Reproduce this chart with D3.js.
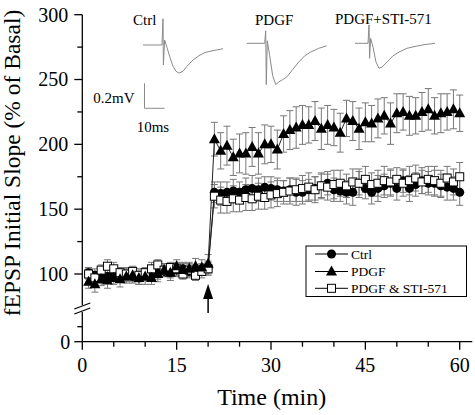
<!DOCTYPE html>
<html><head><meta charset="utf-8">
<script src="https://cdn.jsdelivr.net/npm/d3@7"></script>
<style>html,body{margin:0;padding:0;background:#fff}svg{display:block}
svg text{font-family:"Liberation Serif","Times New Roman",Times,serif;}</style>
</head><body>
<svg id="chart" width="475" height="415"></svg>
<script>
const time = [1,2,3,4,5,6,7,8,9,10,11,12,13,14,15,16,17,18,19,20,
  21,22,23,24,25,26,27,28,29,30,31,32,33,34,35,36,37,38,39,40,
  41,42,43,44,45,46,47,48,49,50,51,52,53,54,55,56,57,58,59,60];
const ctrl = [101,99,97,98,100,101,99,98,97,99,100,101,102,101,103,104,102,103,104,105,
  163,162,163,164,163,165,166,165,167,166,165,164,165,163,163,165,166,168,170,165,
  164,163,163,170,166,163,166,168,170,166,172,166,169,172,170,170,168,167,166,163];
const ctrlErr = [4,5,4,5,4,4,5,4,5,4,4,5,4,4,5,4,5,4,4,5,
  8,9,8,9,8,9,10,9,8,9,9,8,9,10,9,8,9,10,9,9,
  8,9,10,9,8,9,10,9,10,9,9,10,9,10,9,10,9,10,9,10];
const pdgf = [94,92,96,95,97,96,98,99,97,98,97,100,103,101,106,103,104,106,105,108,
  204,195,199,190,193,193,198,193,200,200,196,208,211,213,215,215,218,212,215,213,
  209,220,218,212,217,216,220,222,216,224,225,222,222,225,227,222,224,225,227,224];
const pdgfErr = [5,6,5,6,5,6,5,6,5,6,5,6,5,6,5,6,5,6,6,7,
  13,14,15,14,15,16,15,16,15,14,15,14,15,16,15,14,15,16,15,14,
  15,14,15,16,15,14,15,14,16,15,14,15,14,15,16,14,15,14,15,14];
const sti = [100,97,103,106,104,101,100,102,99,101,104,107,103,105,104,100,103,99,102,104,
  160,157,156,158,157,159,158,160,159,161,162,163,164,165,166,167,165,168,167,169,
  170,168,171,170,173,169,170,172,171,173,170,172,174,171,173,172,170,174,171,175];
const stiErr = [4,5,4,5,5,4,5,4,5,4,5,4,5,4,5,4,5,4,5,5,
  9,10,9,10,9,10,9,10,9,10,10,9,10,9,10,11,10,9,10,11,
  10,9,10,11,10,9,10,11,10,9,10,11,10,9,10,11,10,9,10,11];

const xTicks = [0,15,30,45,60];
const xMinor = [5,10,20,25,35,40,50,55];
const yTicks = [100,150,200,250,300];
const yMinor = [125,175,225,275];
const yLowTicks = [0];
const yLowMinor = [25];

const legendNames = ["Ctrl","PDGF","PDGF & STI-571"];
const insetNames = ["Ctrl","PDGF","PDGF+STI-571"];
const stimTime = 20;

// representative traces: [ms, mV]
const ctrlTrace = [[0,0],[9.5,0],[10,0.21],[10.2,-0.16],[10.8,0.04],[12,-0.02],[13.5,-0.1],[15,-0.17],[16.5,-0.21],[18,-0.225],[20,-0.21],[22,-0.17],[25,-0.12],[28,-0.085],[31,-0.06],[35,-0.045],[40,-0.03]];
const pdgfTrace = [[0,0],[9,0],[9.5,0.1],[9.8,-0.33],[10.3,0.02],[11.5,-0.1],[13,-0.26],[14.5,-0.33],[16,-0.31],[18,-0.29],[20,-0.27],[23,-0.21],[26,-0.15],[29,-0.1],[32,-0.07],[36,-0.04],[40,-0.02]];
const stiTrace = [[0,0],[6.5,0],[7,0.146],[7.3,-0.12],[7.8,0.04],[9,-0.03],[10.5,-0.15],[12,-0.2],[13.5,-0.19],[16,-0.15],[19,-0.1],[22,-0.07],[26,-0.04],[30,-0.025],[35,-0.01],[40,0]];

const svg = d3.select("#chart");

const x = d3.scaleLinear().domain([0,62]).range([82.3,472.3]);
const y = d3.scaleLinear().domain([100,300]).range([274,14.7]);
const yLow = d3.scaleLinear().domain([0,50]).range([341.7,311.7]);

// axes
const gx = svg.append("g").attr("transform",`translate(0,${yLow(0)})`);
gx.append("line").attr("x1",x(0)).attr("x2",x(62)).attr("stroke","#000").attr("stroke-width",1.3);
gx.selectAll(".maj").data(xTicks).join("line").attr("x1",d=>x(d)).attr("x2",d=>x(d)).attr("y1",0).attr("y2",8).attr("stroke","#000").attr("stroke-width",1.3);
gx.selectAll(".min").data(xMinor).join("line").attr("x1",d=>x(d)).attr("x2",d=>x(d)).attr("y1",0).attr("y2",5).attr("stroke","#000").attr("stroke-width",1.3);
gx.selectAll("text").data(xTicks).join("text").attr("x",d=>x(d)).attr("y",30).attr("text-anchor","middle")
  .attr("font-size",20).text(d=>d);

const gy = svg.append("g");
const axX = x(0);
gy.append("line").attr("x1",axX).attr("x2",axX).attr("y1",y(300)).attr("y2",305).attr("stroke","#000").attr("stroke-width",1.3);
gy.append("line").attr("x1",axX).attr("x2",axX).attr("y1",312).attr("y2",yLow(0)).attr("stroke","#000").attr("stroke-width",1.3);
gy.selectAll(".maj").data(yTicks).join("line").attr("x1",axX-8).attr("x2",axX).attr("y1",d=>y(d)).attr("y2",d=>y(d)).attr("stroke","#000").attr("stroke-width",1.3);
gy.selectAll(".min").data(yMinor).join("line").attr("x1",axX-5).attr("x2",axX).attr("y1",d=>y(d)).attr("y2",d=>y(d)).attr("stroke","#000").attr("stroke-width",1.3);
gy.selectAll(".lmaj").data(yLowTicks).join("line").attr("x1",axX-8).attr("x2",axX).attr("y1",d=>yLow(d)).attr("y2",d=>yLow(d)).attr("stroke","#000").attr("stroke-width",1.3);
gy.selectAll(".lmin").data(yLowMinor).join("line").attr("x1",axX-5).attr("x2",axX).attr("y1",d=>yLow(d)).attr("y2",d=>yLow(d)).attr("stroke","#000").attr("stroke-width",1.3);
gy.selectAll(".lab").data(yTicks).join("text").attr("x",axX-14).attr("y",d=>y(d)).attr("dy","0.34em").attr("text-anchor","end")
  .attr("font-size",20).text(d=>d);
gy.selectAll(".llab").data(yLowTicks).join("text").attr("x",axX-12).attr("y",d=>yLow(d)).attr("dy","0.34em").attr("text-anchor","end")
  .attr("font-size",20).text(d=>d);
// break marks
[0,5].forEach(o=>{
  gy.append("line").attr("x1",axX-8).attr("x2",axX+8).attr("y1",309+o).attr("y2",303+o).attr("stroke","#000").attr("stroke-width",1.3);
});

// titles
svg.append("text").attr("x",271.7).attr("y",405).attr("text-anchor","middle").attr("font-size",24).text("Time (min)");
svg.append("text").attr("transform","translate(20,163) rotate(-90)").attr("text-anchor","middle").attr("font-size",23.5).text("fEPSP Initial Slope (% of Basal)");

// series
const series = [
  {vals:ctrl, err:ctrlErr, shape:"circle"},
  {vals:sti, err:stiErr, shape:"square"},
  {vals:pdgf, err:pdgfErr, shape:"triangle"}
];
const plot = svg.append("g");
series.forEach(s=>{
  const g = plot.append("g");
  const data = time.map((t,i)=>({t, v:s.vals[i], e:s.err[i]}));
  g.selectAll(".eb").data(data).join("path")
    .attr("d",d=>`M${x(d.t)},${y(d.v-d.e)}V${y(d.v+d.e)}M${x(d.t)-3.5},${y(d.v+d.e)}h7M${x(d.t)-3.5},${y(d.v-d.e)}h7`)
    .attr("stroke","#777").attr("stroke-width",1).attr("fill","none");
});
series.forEach(s=>{
  const data = time.map((t,i)=>({t, v:s.vals[i]}));
  plot.append("path").datum(data).attr("d",d3.line().x(d=>x(d.t)).y(d=>y(d.v)))
    .attr("fill","none").attr("stroke","#222").attr("stroke-width",1);
});
function marker(g, shape, cx, cy){
  if(shape==="circle") g.append("circle").attr("cx",cx).attr("cy",cy).attr("r",4.5).attr("fill","#000");
  else if(shape==="triangle") g.append("path").attr("d",`M${cx},${cy-6}L${cx+5.5},${cy+4}L${cx-5.5},${cy+4}Z`).attr("fill","#000");
  else g.append("rect").attr("x",cx-4).attr("y",cy-4).attr("width",8).attr("height",8).attr("fill","#fff").attr("stroke","#000").attr("stroke-width",1);
}
series.forEach(s=>{
  const g = plot.append("g");
  time.forEach((t,i)=>marker(g, s.shape, x(t), y(s.vals[i])));
});

// stimulus arrow
const ax = x(stimTime);
svg.append("line").attr("x1",ax).attr("x2",ax).attr("y1",295).attr("y2",313).attr("stroke","#000").attr("stroke-width",1.5);
svg.append("path").attr("d",`M${ax},284L${ax+5},299L${ax-5},299Z`).attr("fill","#000");

// legend
const lg = svg.append("g");
lg.append("rect").attr("x",306).attr("y",246).attr("width",160.5).attr("height",50.5).attr("fill","#fff").attr("stroke","#000").attr("stroke-width",1);
const lShapes = ["circle","triangle","square"];
const lY = [254,271.5,288.3];
legendNames.forEach((n,i)=>{
  lg.append("line").attr("x1",315).attr("x2",348).attr("y1",lY[i]).attr("y2",lY[i]).attr("stroke","#000").attr("stroke-width",1);
  marker(lg, lShapes[i], 331.5, lY[i]);
  lg.append("text").attr("x",351).attr("y",lY[i]+4.5).attr("font-size",13.5).text(n);
});

// inset traces
const tx = d3.scaleLinear().domain([0,40]).range([0,80]);
const ty = d3.scaleLinear().domain([0,-0.2]).range([0,25]);
const traces = [ctrlTrace, pdgfTrace, stiTrace];
const traceOrigin = [[143,45],[246.7,43.3],[355,43.3]];
const labelPos = [[133,24.5],[255,24.5],[335,24]];
traces.forEach((tr,i)=>{
  svg.append("path").datum(tr).attr("transform",`translate(${traceOrigin[i][0]},${traceOrigin[i][1]})`)
    .attr("d",d3.line().x(d=>tx(d[0])).y(d=>ty(d[1]))).attr("fill","none").attr("stroke","#8a8a8a").attr("stroke-width",1);
  svg.append("text").attr("x",labelPos[i][0]).attr("y",labelPos[i][1]).attr("font-size",15).text(insetNames[i]);
});
// scale bar: 0.2 mV vertical, 10 ms horizontal
const sb = svg.append("g").attr("transform","translate(144.5,108.3)");
sb.append("path").attr("d",`M0,${-ty(-0.2)}V0H${tx(10)}`).attr("fill","none").attr("stroke","#8a8a8a").attr("stroke-width",1);
svg.append("text").attr("x",93.3).attr("y",103).attr("font-size",15).text("0.2mV");
svg.append("text").attr("x",136.7).attr("y",132).attr("font-size",15).text("10ms");
</script>
</body></html>
